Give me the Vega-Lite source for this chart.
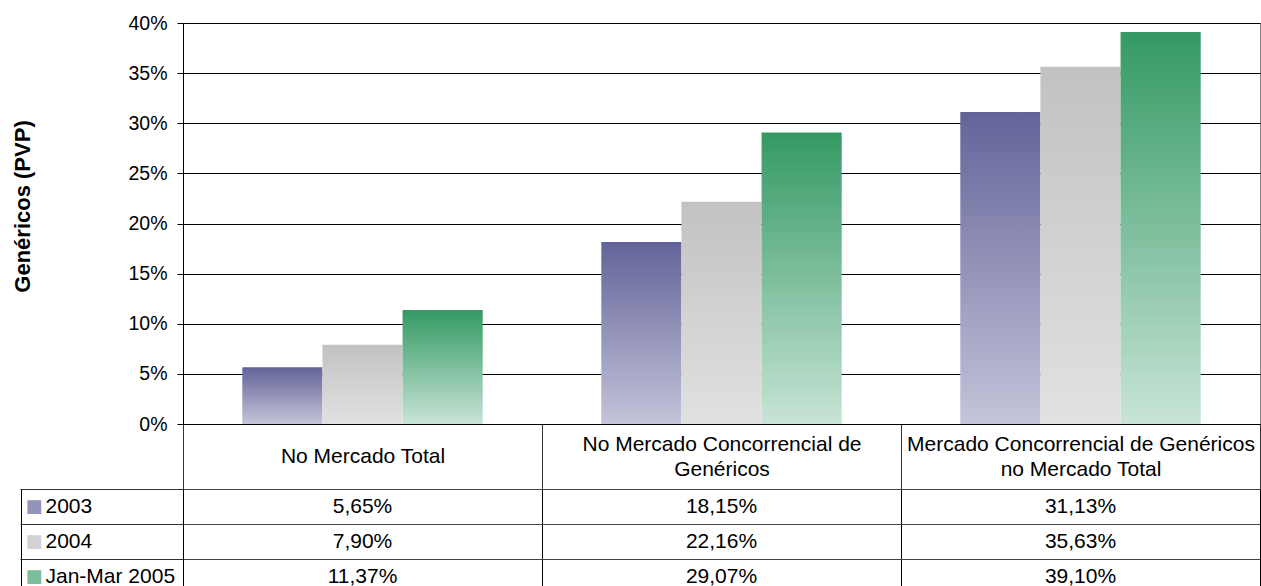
{
  "$schema": "https://vega.github.io/schema/vega-lite/v6.json",
  "padding": {"left": 10, "top": 12, "right": 0, "bottom": 0},
  "config": {
    "font": "Liberation Sans",
    "locale": {"number": {"decimal": ",", "thousands": ".", "grouping": [3], "currency": ["", " €"]}},
    "axis": {"labelFont": "Liberation Sans", "titleFont": "Liberation Sans"}
  },
  "data": {
    "values": [
      {"category": "No Mercado Total", "series": "2003", "value": 0.0565},
      {"category": "No Mercado Total", "series": "2004", "value": 0.0790},
      {"category": "No Mercado Total", "series": "Jan-Mar 2005", "value": 0.1137},
      {"category": "No Mercado Concorrencial de Genéricos", "series": "2003", "value": 0.1815},
      {"category": "No Mercado Concorrencial de Genéricos", "series": "2004", "value": 0.2216},
      {"category": "No Mercado Concorrencial de Genéricos", "series": "Jan-Mar 2005", "value": 0.2907},
      {"category": "Mercado Concorrencial de Genéricos no Mercado Total", "series": "2003", "value": 0.3113},
      {"category": "Mercado Concorrencial de Genéricos no Mercado Total", "series": "2004", "value": 0.3563},
      {"category": "Mercado Concorrencial de Genéricos no Mercado Total", "series": "Jan-Mar 2005", "value": 0.3910}
    ]
  },
  "vconcat": [
    {
      "width": 1077,
      "height": 401,
      "view": {"stroke": "#808080"},
      "mark": {"type": "bar"},
      "encoding": {
        "x": {
          "field": "category", "type": "nominal",
          "sort": ["No Mercado Total", "No Mercado Concorrencial de Genéricos", "Mercado Concorrencial de Genéricos no Mercado Total"],
          "scale": {"paddingInner": 0, "paddingOuter": 0},
          "axis": {
            "title": null, "grid": false, "tickBand": "extent", "tickSize": 65, "tickColor": "#333",
            "domainColor": "#000", "labelAngle": 0,
            "labelPadding": {"condition": {"test": "datum.value != 'No Mercado Total'", "value": -45}, "value": -32.5},
            "labelBaseline": "middle",
            "labelFontSize": 21, "labelColor": "#000", "labelLimit": 400, "labelLineHeight": 25,
            "labelExpr": "datum.value == 'No Mercado Concorrencial de Genéricos' ? ['No Mercado Concorrencial de', 'Genéricos'] : datum.value == 'Mercado Concorrencial de Genéricos no Mercado Total' ? ['Mercado Concorrencial de Genéricos', 'no Mercado Total'] : datum.label"
          }
        },
        "xOffset": {
          "field": "series", "type": "nominal", "sort": ["2003", "2004", "Jan-Mar 2005"],
          "scale": {"paddingInner": 0, "paddingOuter": 0.74}
        },
        "y": {
          "field": "value", "type": "quantitative",
          "scale": {"domain": [0, 0.4]},
          "axis": {
            "title": "Genéricos (PVP)", "format": ".0%",
            "values": [0, 0.05, 0.1, 0.15, 0.2, 0.25, 0.3, 0.35, 0.4],
            "grid": true, "gridColor": "#000", "gridOpacity": 1,
            "tickSize": 6, "tickColor": "#000", "domainColor": "#000",
            "labelPadding": 10, "labelFontSize": 19.5, "labelColor": "#000",
            "titleFontSize": 22, "titleFontWeight": "bold", "titleColor": "#000",
            "titleAngle": -90, "titleAlign": "center", "titleBaseline": "middle",
            "titleX": -161, "titleY": 183
          }
        },
        "color": {
          "condition": [
            {"test": "datum.series === '2003'", "value": {"gradient": "linear", "x1": 0, "y1": 0, "x2": 0, "y2": 1, "stops": [{"offset": 0, "color": "#636399"}, {"offset": 1, "color": "#c4c4da"}]}},
            {"test": "datum.series === '2004'", "value": {"gradient": "linear", "x1": 0, "y1": 0, "x2": 0, "y2": 1, "stops": [{"offset": 0, "color": "#c2c2c2"}, {"offset": 1, "color": "#e1e1e1"}]}}
          ],
          "value": {"gradient": "linear", "x1": 0, "y1": 0, "x2": 0, "y2": 1, "stops": [{"offset": 0, "color": "#349964"}, {"offset": 1, "color": "#c8e4d6"}]}
        }
      }
    },
    {
      "width": 1077,
      "height": 105,
      "view": {"stroke": "#000"},
      "layer": [
        {
          "mark": {"type": "text", "fontSize": 21, "color": "#000", "baseline": "middle"},
          "encoding": {
            "x": {
              "field": "category", "type": "nominal",
              "sort": ["No Mercado Total", "No Mercado Concorrencial de Genéricos", "Mercado Concorrencial de Genéricos no Mercado Total"],
              "scale": {"paddingInner": 0, "paddingOuter": 0},
              "axis": {"title": null, "labels": false, "ticks": false, "domain": false, "grid": true, "gridColor": "#000", "gridOpacity": 1, "tickBand": "extent"}
            },
            "y": {
              "field": "series", "type": "nominal", "sort": ["2003", "2004", "Jan-Mar 2005"],
              "scale": {"paddingInner": 0, "paddingOuter": 0},
              "axis": {
                "title": null, "orient": "left", "tickBand": "extent", "tickSize": 163, "tickColor": "#333",
                "grid": true, "gridColor": "#444", "gridOpacity": 1, "domainColor": "#000",
                "labelAlign": "left", "labelBaseline": "middle", "labelPadding": -25,
                "labelFontSize": 21, "labelColor": "#000", "labelLimit": 200
              }
            },
            "text": {"field": "value", "type": "quantitative", "format": ".2%"}
          }
        },
        {
          "mark": {"type": "text", "opacity": 0},
          "encoding": {
            "y": {
              "field": "series", "type": "nominal", "sort": ["2003", "2004", "Jan-Mar 2005"],
              "axis": {
                "title": null, "orient": "left", "offset": 162, "ticks": false, "grid": false, "domainColor": "#000",
                "labelExpr": "'■'", "labelAlign": "left", "labelBaseline": "middle", "labelPadding": -4,
                "labelFontSize": 18, "labelFont": "DejaVu Sans",
                "labelColor": {
                  "condition": [
                    {"test": "datum.value === '2003'", "value": "#9494bb"},
                    {"test": "datum.value === '2004'", "value": "#d2d2d2"}
                  ],
                  "value": "#7cbe9c"
                }
              }
            },
            "text": {"value": ""}
          }
        }
      ],
      "resolve": {"axis": {"y": "independent"}}
    }
  ],
  "spacing": 65,
  "bounds": "flush"
}
